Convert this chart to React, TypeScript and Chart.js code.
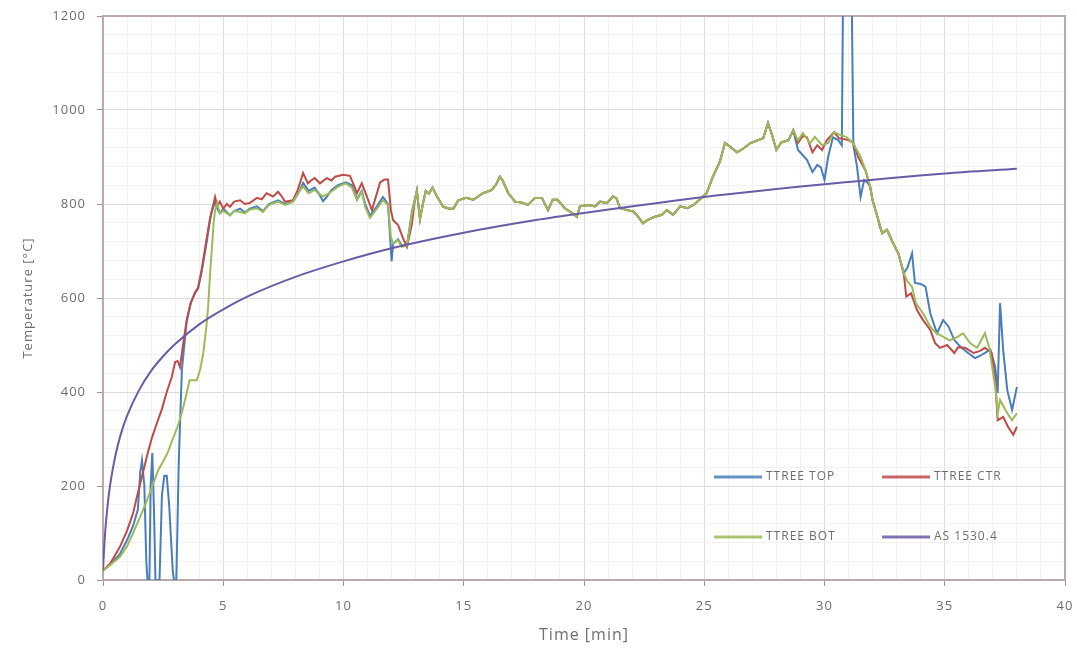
import { useEffect, useRef } from "react";
import { Chart, registerables } from "chart.js";

Chart.register(...registerables);

// ---- Thermocouple tree readings (time in minutes, temperature in °C) ----

// Shared stretch where all three thermocouples read almost identically
const sharedTime = [
  12.97, 13.05, 13.18, 13.3, 13.42, 13.55, 13.7, 13.9, 14.15, 14.4, 14.57, 14.77, 15.1, 15.4, 15.8,
  16.17, 16.35, 16.5, 16.62, 16.85, 17.13, 17.4, 17.67, 17.96, 18.25, 18.5, 18.7, 18.9, 19.2, 19.5,
  19.7, 19.83, 20.17, 20.46, 20.67, 20.95, 21.2, 21.35, 21.5, 21.8, 22.05, 22.25, 22.45, 22.65, 22.95,
  23.24, 23.45, 23.7, 24.0, 24.3, 24.55, 24.8, 25.1, 25.36, 25.65, 25.86, 26.07, 26.36, 26.6, 26.9,
  27.24, 27.45, 27.65, 27.8, 28.0, 28.2, 28.5, 28.7,
];
const sharedTemp = [
  810, 828, 768, 800, 828, 822, 835, 815, 794, 790, 790, 808, 813, 809, 823,
  830, 842, 858, 850, 823, 805, 803, 798, 813, 813, 787, 809, 809, 791, 781,
  773, 795, 798, 795, 805, 802, 816, 812, 791, 787, 784, 773, 759, 766, 773,
  777, 787, 777, 795, 791, 798, 809, 823, 858, 890, 930, 922, 910, 917, 929,
  936, 940, 972, 950, 915, 931, 936, 957,
];

// TTREE TOP
const topEarlyTime = [
  0, 0.3, 0.7, 1.0, 1.25, 1.45, 1.55, 1.62, 1.72, 1.8, 1.85, 1.93, 1.98, 2.05, 2.12, 2.18, 2.35, 2.45,
  2.55, 2.65, 2.75, 2.9, 2.95, 3.05, 3.15, 3.28, 3.48, 3.65, 3.83, 3.95, 4.1, 4.3, 4.45, 4.53, 4.66,
  4.75, 4.86, 5.0, 5.28, 5.45, 5.7, 5.9, 6.1, 6.4, 6.65, 6.9, 7.28, 7.57, 7.9, 8.2, 8.32, 8.55, 8.8,
  9.0, 9.15, 9.3, 9.5, 9.77, 10.1, 10.35, 10.56, 10.76, 10.9, 11.1, 11.39, 11.64, 11.85, 11.95, 12.0,
  12.06, 12.27, 12.42, 12.64, 12.85,
];
const topEarlyTemp = [
  20, 33, 55, 85, 115, 150, 230, 255, 200, 40, 0, 0, 200, 270, 150, 0, 0, 180,
  222, 222, 160, 20, 0, 0, 250, 447, 550, 590, 610, 620, 655, 715, 765, 785, 805,
  790, 780, 790, 776, 785, 790, 782, 790, 795, 785, 800, 808, 800, 805, 830, 845, 828, 835,
  820, 806, 815, 830, 840, 846, 840, 810, 828, 800, 775, 795, 815, 800, 720, 678,
  715, 725, 712, 712, 785,
];
const topLateTime = [
  28.9, 29.27, 29.5, 29.7, 29.85, 30.0, 30.15, 30.35, 30.57, 30.72, 30.78, 31.12, 31.2, 31.35, 31.5,
  31.65, 31.8, 31.9, 32.0, 32.2, 32.4, 32.6, 32.85, 33.07, 33.3, 33.45, 33.64, 33.76, 34.0, 34.2,
  34.4, 34.68, 34.93, 35.15, 35.4, 35.7, 35.97, 36.26, 36.5, 36.67, 36.9, 37.1, 37.2, 37.3, 37.43,
  37.6, 37.8, 38.0,
];
const topLateTemp = [
  915, 894, 868, 883, 878, 851, 900, 942, 936, 925, 1300, 1300, 925, 880, 815,
  851, 845, 836, 808, 773, 738, 745, 717, 695, 653, 665, 695, 632, 630, 624,
  567, 525, 553, 540, 510, 494, 483, 472, 478, 483, 490, 453, 398, 589, 489,
  404, 362, 411,
];

// TTREE CTR
const ctrEarlyTime = [
  0, 0.3, 0.7, 1.0, 1.25, 1.45, 1.66, 1.85, 2.03, 2.25, 2.44, 2.65, 2.86, 3.0, 3.1, 3.2, 3.3, 3.48,
  3.65, 3.83, 3.95, 4.1, 4.3, 4.45, 4.53, 4.66, 4.75, 4.86, 5.0, 5.15, 5.28, 5.45, 5.7, 5.9, 6.1,
  6.4, 6.6, 6.8, 7.07, 7.28, 7.45, 7.57, 7.9, 8.1, 8.32, 8.52, 8.65, 8.8, 9.02, 9.3, 9.5, 9.65,
  9.98, 10.27, 10.4, 10.56, 10.76, 10.97, 11.18, 11.39, 11.52, 11.7, 11.85, 11.97, 12.06, 12.27,
  12.47, 12.64, 12.85,
];
const ctrEarlyTemp = [
  20, 35, 70, 105, 142, 185, 228, 268, 302, 335, 362, 400, 432, 464, 466, 453, 490, 553,
  590, 613, 621, 660, 723, 770, 787, 815, 795, 805, 790, 800, 794, 805, 808, 800, 802,
  813, 810, 823, 816, 826, 815, 805, 808, 830, 866, 844, 850, 855, 844, 855, 850, 858,
  862, 860, 844, 823, 844, 816, 787, 823, 846, 852, 852, 787, 766, 755,
  728, 709, 759,
];
const ctrLateTime = [
  28.9, 29.1, 29.27, 29.5, 29.7, 29.9, 30.1, 30.4, 30.6, 31.0, 31.2, 31.4, 31.7, 31.9, 32.0, 32.2,
  32.3, 32.4, 32.6, 32.85, 33.07, 33.3, 33.4, 33.6, 33.85, 34.1, 34.4, 34.6, 34.8, 35.1, 35.4,
  35.55, 35.85, 36.2, 36.45, 36.67, 36.95, 37.1, 37.2, 37.43, 37.63, 37.85, 38.0,
];
const ctrLateTemp = [
  930, 945, 942, 910, 925, 915, 936, 953, 940, 936, 930, 900, 872, 836, 808, 773,
  751, 738, 745, 717, 695, 650, 603, 610, 574, 553, 532, 504, 494, 500, 483,
  495, 494, 483, 487, 494, 483, 426, 340, 347, 326, 309, 326,
];

// TTREE BOT
const botEarlyTime = [
  0, 0.3, 0.7, 1.0, 1.25, 1.55, 1.83, 2.05, 2.3, 2.5, 2.7, 2.9, 3.1, 3.3, 3.48, 3.6, 3.9, 4.05,
  4.17, 4.3, 4.37, 4.45, 4.53, 4.6, 4.66, 4.75, 4.86, 5.0, 5.28, 5.45, 5.7, 5.9, 6.1, 6.4, 6.65,
  6.9, 7.28, 7.57, 7.9, 8.2, 8.32, 8.55, 8.8, 9.15, 9.4, 9.77, 10.1, 10.35, 10.56, 10.76, 10.9,
  11.1, 11.39, 11.64, 11.85, 11.97, 12.06, 12.27, 12.42, 12.64, 12.85,
];
const botEarlyTemp = [
  20, 32, 49, 72, 100, 135, 170, 200, 234, 252, 272, 300, 326, 360, 398, 425, 425, 450,
  483, 540, 580, 650, 708, 760, 787, 802, 780, 785, 776, 785, 783, 780, 788, 791, 783,
  798, 805, 798, 805, 830, 837, 823, 830, 816, 823, 837, 844, 835, 808, 826, 794,
  770, 790, 808, 798, 730, 716, 723, 709, 712, 780,
];
const botLateTime = [
  28.9, 29.1, 29.4, 29.6, 29.9, 30.15, 30.4, 30.6, 30.9, 31.2, 31.5, 31.75, 31.9, 32.0, 32.2, 32.4,
  32.6, 32.85, 33.07, 33.3, 33.45, 33.64, 33.8, 34.1, 34.4, 34.65, 34.93, 35.2, 35.55, 35.76,
  36.05, 36.35, 36.67, 36.85, 37.1, 37.2, 37.3, 37.6, 37.8, 38.0,
];
const botLateTemp = [
  935, 951, 929, 943, 925, 930, 953, 948, 943, 929, 900, 866, 836, 808, 773, 738,
  745, 717, 695, 653, 635, 624, 589, 567, 539, 525, 518, 510, 518, 525,
  504, 494, 525, 494, 411, 355, 383, 355, 340, 355,
];

// AS 1530.4 standard fire curve
const asTime = [0, 0.05, 0.1, 0.25, 0.5, 0.75, 1, 1.5, 2, 2.5, 3, 4, 5, 6, 8, 10, 12, 15, 18, 20, 25, 30, 35, 38];
const asTemp = [20, 70, 108, 185, 261, 312, 349, 404, 445, 476, 502, 544, 576, 603, 645, 678, 706, 739, 766, 781, 815, 842, 865, 875];

const seriesNames = ["TTREE TOP", "TTREE CTR", "TTREE BOT", "AS 1530.4"];
const seriesColors = ["#4a7ebb", "#be4b48", "#9bbb59", "#6b5ba6"];

const yTickLabels = [0, 200, 400, 600, 800, 1000, 1200];
const xTickLabels = [0, 5, 10, 15, 20, 25, 30, 35, 40];

const pts = (t: number[], v: number[]) => t.map((x, i) => ({ x, y: v[i] }));

const FONT = "'Open Sans', 'Liberation Sans', sans-serif";
const AXIS = "#a89090";
const TEXT = "#6e6e6e";

// Four-entry legend laid out in two rows inside the plot area
const insideLegend = {
  id: "insideLegend",
  afterDraw(chart: any) {
    const { ctx, chartArea: a } = chart;
    const cols = [a.left + 611, a.left + 779];
    const rows = [a.top + 461, a.top + 521];
    ctx.save();
    ctx.letterSpacing = "1px";
    ctx.font = `12px ${FONT}`;
    ctx.textBaseline = "middle";
    ctx.textAlign = "left";
    seriesNames.forEach((name, i) => {
      const x = cols[i % 2];
      const y = rows[Math.floor(i / 2)];
      ctx.strokeStyle = seriesColors[i];
      ctx.globalAlpha = 0.85;
      ctx.lineWidth = 3;
      ctx.beginPath();
      ctx.moveTo(x, y);
      ctx.lineTo(x + 48, y);
      ctx.stroke();
      ctx.globalAlpha = 1;
      ctx.fillStyle = TEXT;
      ctx.fillText(name, x + 52, y);
    });
    ctx.restore();
  },
};

// Temperature tick labels, right-aligned a fixed gap left of the y axis
const yLabels = {
  id: "yLabels",
  afterDraw(chart: any) {
    const { ctx } = chart;
    const ys = chart.scales.y;
    ctx.save();
    ctx.letterSpacing = "1px";
    ctx.font = `13px ${FONT}`;
    ctx.fillStyle = TEXT;
    ctx.textAlign = "right";
    ctx.textBaseline = "middle";
    yTickLabels.forEach((v) => ctx.fillText(String(v), ys.right - 17, ys.getPixelForValue(v)));
    ctx.restore();
  },
};

// Frame round the plot area, plus wider letter spacing for all chart text
const plotFrame = {
  id: "plotFrame",
  beforeDraw(chart: any) {
    chart.ctx.letterSpacing = "1px";
  },
  beforeDatasetsDraw(chart: any) {
    const { ctx, chartArea: a } = chart;
    ctx.save();
    ctx.strokeStyle = "#bca8a8";
    ctx.lineWidth = 2;
    ctx.strokeRect(a.left, a.top, a.right - a.left, a.bottom - a.top);
    ctx.restore();
  },
};

export default function App() {
  const canvasRef = useRef<HTMLCanvasElement | null>(null);

  useEffect(() => {
    if (!canvasRef.current) return;
    const line = (i: number, data: { x: number; y: number }[], order: number, smooth = false) => ({
      label: seriesNames[i],
      data,
      borderColor: seriesColors[i],
      backgroundColor: seriesColors[i],
      borderWidth: 2,
      pointRadius: 0,
      tension: 0,
      cubicInterpolationMode: smooth ? ("monotone" as const) : ("default" as const),
      order,
    });

    const chart = new Chart(canvasRef.current, {
      type: "line",
      data: {
        datasets: [
          line(0, [...pts(topEarlyTime, topEarlyTemp), ...pts(sharedTime, sharedTemp), ...pts(topLateTime, topLateTemp)], 4),
          line(1, [...pts(ctrEarlyTime, ctrEarlyTemp), ...pts(sharedTime, sharedTemp), ...pts(ctrLateTime, ctrLateTemp)], 3),
          line(2, [...pts(botEarlyTime, botEarlyTemp), ...pts(sharedTime, sharedTemp), ...pts(botLateTime, botLateTemp)], 2),
          line(3, pts(asTime, asTemp), 1, true),
        ],
      },
      options: {
        animation: false,
        responsive: false,
        parsing: false,
        normalized: true,
        layout: { padding: { top: 16, right: 12, left: 0, bottom: 0 } },
        plugins: { legend: { display: false }, tooltip: { enabled: false } },
        scales: {
          x: {
            type: "linear",
            min: xTickLabels[0],
            max: xTickLabels[xTickLabels.length - 1],
            afterFit: (s: any) => {
              s.height = 72;
              s.paddingLeft = 0;
              s.paddingRight = 0;
            },
            ticks: {
              stepSize: 1,
              autoSkip: false,
              maxRotation: 0,
              padding: 12,
              color: TEXT,
              font: { family: FONT, size: 13 },
              callback: (v: any) => (xTickLabels.includes(Number(v)) ? String(v) : ""),
            },
            grid: {
              tickLength: 6,
              color: (c: any) => (xTickLabels.includes(c.tick?.value) ? "#dcdcdc" : "#f3f0f0"),
              tickColor: (c: any) => (xTickLabels.includes(c.tick?.value) ? AXIS : "rgba(0,0,0,0)"),
            },
            border: { color: AXIS, width: 2 },
            title: {
              display: true,
              text: "Time [min]",
              color: TEXT,
              font: { family: FONT, size: 16 },
              padding: { top: 0, bottom: 7 },
            },
          },
          y: {
            type: "linear",
            min: yTickLabels[0],
            max: yTickLabels[yTickLabels.length - 1],
            afterFit: (s: any) => {
              s.width = 103;
              s.paddingTop = 0;
              s.paddingBottom = 0;
            },
            ticks: {
              stepSize: 40,
              autoSkip: false,
              display: false,
            },
            grid: {
              tickLength: 6,
              color: (c: any) => (yTickLabels.includes(c.tick?.value) ? "#dcdcdc" : "#f3f0f0"),
              tickColor: (c: any) => (yTickLabels.includes(c.tick?.value) ? AXIS : "rgba(0,0,0,0)"),
            },
            border: { color: AXIS, width: 2 },
            title: {
              display: true,
              text: "Temperature [°C]",
              color: TEXT,
              font: { family: FONT, size: 13 },
              padding: { top: 20, bottom: 0 },
            },
          },
        },
      },
      plugins: [plotFrame, yLabels, insideLegend],
    });
    return () => chart.destroy();
  }, []);

  return (
    <div style={{ position: "fixed", left: 0, top: 0, width: 1077, height: 652, background: "#fff" }}>
      <canvas ref={canvasRef} width={1077} height={652} style={{ display: "block" }} />
    </div>
  );
}
